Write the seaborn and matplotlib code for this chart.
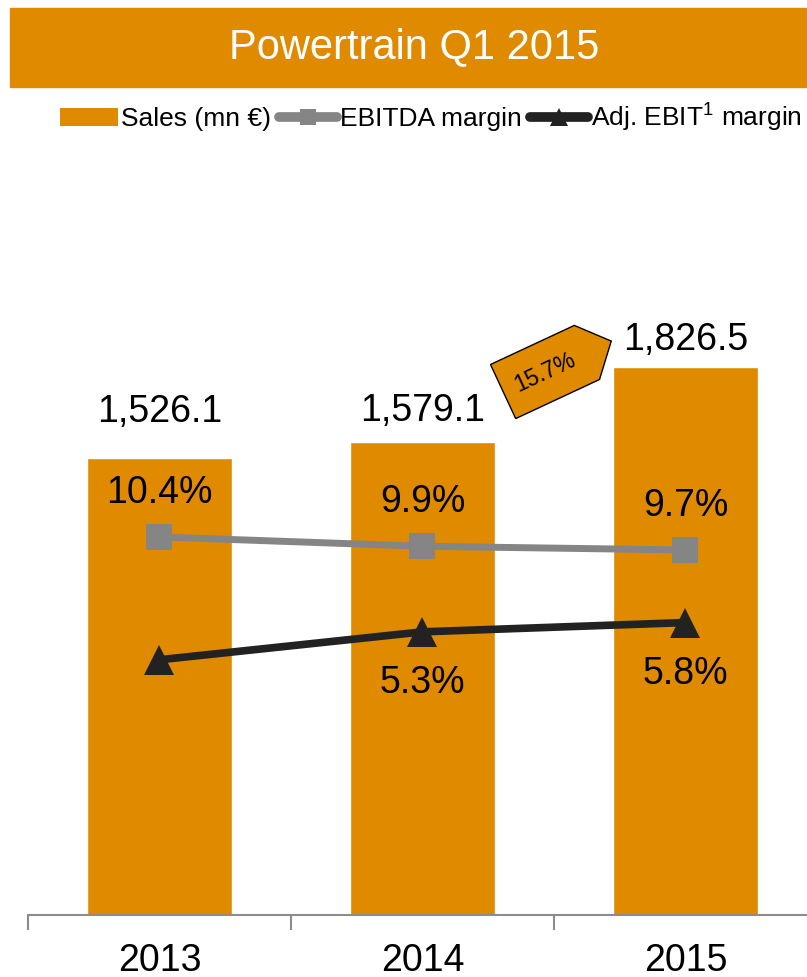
import numpy as np
import pandas as pd
import matplotlib.pyplot as plt
import seaborn as sns
from matplotlib.path import Path
from matplotlib.patches import Rectangle, Patch
from matplotlib.lines import Line2D

# ─── DATA ───────────────────────────────────────────────
years = ["2013", "2014", "2015"]
sales = [1526.1, 1579.1, 1826.5]
ebitda_margin = [10.4, 9.9, 9.7]
ebit_margin = [3.8, 5.3, 5.8]
ebit_labels = ["", "5.3%", "5.8%"]
growth_label = "15.7%"

ORANGE = "#E08A00"
GRAY = "#858585"
BLACK = "#222222"

# ─── STYLE ──────────────────────────────────────────────
sns.set_style("white")
plt.rcParams["font.family"] = ["Liberation Sans", "DejaVu Sans"]
plt.rcParams["mathtext.fontset"] = "custom"
plt.rcParams["mathtext.rm"] = "Liberation Sans"
plt.rcParams["text.color"] = "black"
plt.rcParams["xtick.labelcolor"] = "black"

fig = plt.figure(figsize=(8.07, 9.77), dpi=100)
ax = fig.add_axes([28 / 807, 1 - 915 / 977, 1 - 28 / 807, (915 - 150) / 977])

df = pd.DataFrame({"year": years, "sales": sales})
sns.barplot(data=df, x="year", y="sales", color=ORANGE, saturation=1,
            width=0.555, ax=ax)

# sales labels above bars
sales_offsets = [33, 22, 20]
for i, v in enumerate(sales):
    ax.annotate(f"{v:,.1f}", (i, v), xytext=(0, sales_offsets[i]),
                textcoords="offset points", ha="center", va="center",
                fontsize=27, color="black")

# ─── MARGIN LINES ───────────────────────────────────────
ax2 = ax.twinx()
xpos = np.arange(len(years))
sns.lineplot(x=xpos, y=ebitda_margin, ax=ax2, color=GRAY, linewidth=5,
             marker="s", markersize=19, markeredgewidth=0)
sns.lineplot(x=xpos, y=ebit_margin, ax=ax2, color=BLACK, linewidth=5.5,
             marker="^", markersize=21, markeredgewidth=0)

for i, v in enumerate(ebitda_margin):
    ax2.annotate(f"{v:.1f}%", (i, v), xytext=(0, 32), textcoords="offset points",
                 ha="center", va="center", fontsize=27, color="black")
for i, v in enumerate(ebit_margin):
    if ebit_labels[i]:
        ax2.annotate(ebit_labels[i], (i, v), xytext=(0, -37),
                     textcoords="offset points", ha="center", va="center",
                     fontsize=27, color="black")

# ─── AXES CLEANUP ───────────────────────────────────────
for a in (ax, ax2):
    a.set_xlabel("")
    a.set_ylabel("")
    a.set_yticks([])
    for s in ("top", "left", "right"):
        a.spines[s].set_visible(False)
ax2.spines["bottom"].set_visible(False)
ax.spines["bottom"].set_color("#8C8C8C")
ax.spines["bottom"].set_linewidth(1.5)

ax.set_xticks(xpos)
ax.set_xticklabels(years, fontsize=27, color="black")
ax.set_xticks(np.arange(-0.5, len(years), 1.0), minor=True)
ax.tick_params(axis="x", which="major", bottom=False, length=0, pad=20)
ax.tick_params(axis="x", which="minor", bottom=True, length=11, width=1.5,
               color="#8C8C8C")
ax2.tick_params(axis="x", which="both", length=0, labelbottom=False)

ax.set_ylim(0, 2552)
ax2.set_ylim(-9.92, 31.2)
ax.set_xlim(-0.5, 2.462)
ax2.set_xlim(-0.5, 2.462)


# ─── GROWTH TAG ─────────────────────────────────────────
def tag_box(x0, y0, width, height, mutation_size):
    padx = 0.6 * mutation_size
    pady = 0.8 * mutation_size
    x0, y0 = x0 - padx, y0 - pady
    width, height = width + 2 * padx, height + 2 * pady
    tip = height * 0.45
    verts = [(x0, y0), (x0 + width, y0), (x0 + width + tip, y0 + height / 2),
             (x0 + width, y0 + height), (x0, y0 + height), (x0, y0)]
    codes = [Path.MOVETO] + [Path.LINETO] * 4 + [Path.CLOSEPOLY]
    return Path(verts, codes)


fig.text(545 / 807, 1 - 372 / 977, growth_label, fontsize=16.5, rotation=25,
         ha="center", va="center", rotation_mode="anchor",
         bbox=dict(boxstyle=tag_box, fc=ORANGE, ec="black", lw=1))

# ─── TITLE BANNER ───────────────────────────────────────
fig.patches.append(Rectangle((10 / 807, 1 - 87 / 977), 1, 79 / 977,
                             transform=fig.transFigure, color=ORANGE, zorder=0))
fig.text(414 / 807, 1 - 47 / 977, "Powertrain Q1 2015", fontsize=30,
         color="white", ha="center", va="center")

# ─── LEGEND ─────────────────────────────────────────────
handles = [
    Patch(facecolor=ORANGE, edgecolor="none"),
    Line2D([], [], color=GRAY, lw=7, marker="s", markersize=12, markeredgewidth=0),
    Line2D([], [], color=BLACK, lw=7, marker="^", markersize=13, markeredgewidth=0),
]
labels = ["Sales (mn €)", "EBITDA margin", "Adj. EBIT$^1$ margin"]
fig.legend(handles, labels, loc="center left", bbox_to_anchor=(60 / 807, 1 - 117 / 977),
           ncol=3, frameon=False, fontsize=19, handlelength=2.2,
           handletextpad=0.12, columnspacing=0.3, borderaxespad=0,
           borderpad=0)

fig.savefig("out.png", dpi=100)
